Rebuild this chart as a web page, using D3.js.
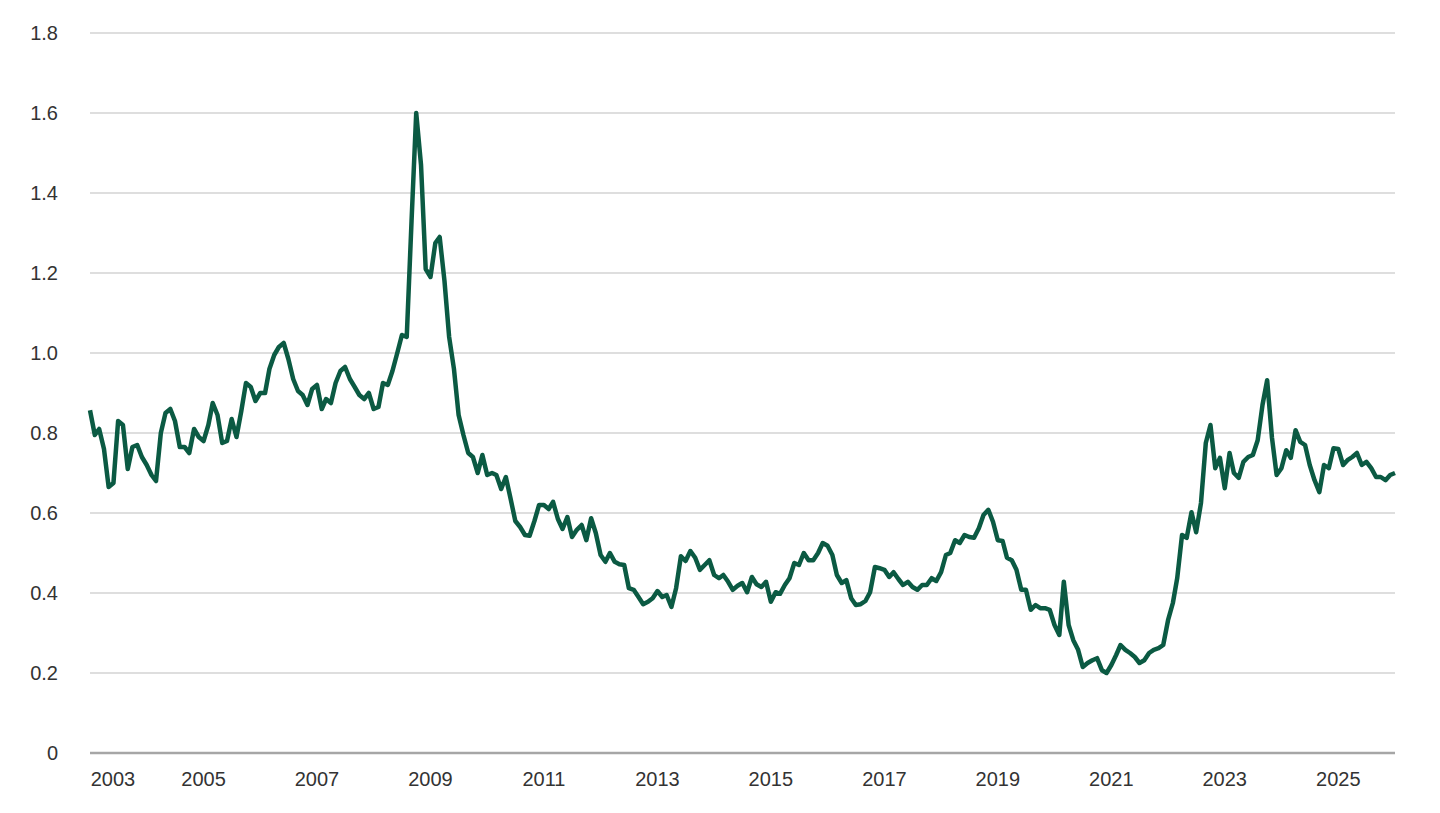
<!DOCTYPE html>
<html>
<head>
<meta charset="utf-8">
<script src="https://cdn.jsdelivr.net/npm/d3@7"></script>
<style>
  body { margin: 0; background: #fff; }
  text { font-family: "Liberation Sans", Arial, sans-serif; }
</style>
</head>
<body>
<svg id="chart" width="1440" height="813"></svg>
<script>
// monthly values starting Jan 2003
const startYear = 2003;
const values = [
  0.857,0.795,0.81,0.76,0.665,0.675,0.83,0.82,0.71,0.765,0.77,0.74,
  0.72,0.695,0.68,0.80,0.85,0.86,0.83,0.765,0.765,0.75,0.81,0.79,
  0.78,0.82,0.875,0.845,0.775,0.78,0.835,0.79,0.855,0.925,0.915,0.88,
  0.90,0.90,0.96,0.995,1.015,1.025,0.985,0.935,0.905,0.895,0.87,0.91,
  0.92,0.86,0.885,0.875,0.925,0.955,0.965,0.935,0.915,0.895,0.885,0.90,
  0.86,0.865,0.925,0.92,0.955,1.0,1.045,1.04,1.33,1.6,1.47,1.21,
  1.19,1.275,1.29,1.18,1.04,0.96,0.845,0.795,0.75,0.74,0.70,0.745,
  0.695,0.70,0.695,0.66,0.69,0.635,0.58,0.565,0.545,0.543,0.58,0.62,
  0.62,0.61,0.628,0.585,0.56,0.59,0.54,0.558,0.57,0.532,0.587,0.55,
  0.495,0.478,0.5,0.478,0.472,0.47,0.412,0.408,0.39,0.372,0.378,0.387,
  0.405,0.39,0.395,0.365,0.412,0.492,0.48,0.505,0.488,0.458,0.47,0.482,
  0.445,0.437,0.445,0.428,0.408,0.418,0.425,0.402,0.44,0.422,0.415,0.428,
  0.378,0.402,0.398,0.42,0.437,0.475,0.47,0.5,0.482,0.482,0.5,0.525,
  0.518,0.495,0.445,0.425,0.432,0.387,0.37,0.372,0.38,0.402,0.465,0.462,
  0.458,0.44,0.452,0.435,0.42,0.428,0.415,0.408,0.42,0.42,0.437,0.43,
  0.452,0.495,0.5,0.532,0.525,0.545,0.54,0.538,0.562,0.595,0.608,0.578,
  0.532,0.53,0.488,0.482,0.458,0.408,0.408,0.358,0.37,0.362,0.362,0.358,
  0.32,0.295,0.428,0.32,0.282,0.258,0.215,0.225,0.232,0.237,0.207,0.2,
  0.22,0.245,0.27,0.258,0.25,0.24,0.225,0.232,0.25,0.258,0.262,0.27,
  0.332,0.375,0.437,0.545,0.538,0.602,0.552,0.625,0.775,0.82,0.712,0.738,
  0.662,0.75,0.70,0.688,0.728,0.74,0.745,0.782,0.87,0.932,0.788,0.695,
  0.712,0.757,0.738,0.807,0.778,0.77,0.72,0.682,0.652,0.72,0.712,0.762,
  0.76,0.72,0.732,0.74,0.75,0.72,0.728,0.712,0.69,0.69,0.682,0.695,0.70
];
const yTicks = [0, 0.2, 0.4, 0.6, 0.8, 1.0, 1.2, 1.4, 1.6, 1.8];
const yTickLabels = ["0", "0.2", "0.4", "0.6", "0.8", "1.0", "1.2", "1.4", "1.6", "1.8"];
const xTickYears = [2003, 2005, 2007, 2009, 2011, 2013, 2015, 2017, 2019, 2021, 2023, 2025];

const data = values.map((v, i) => ({ date: new Date(startYear, i, 1), value: v }));

const svg = d3.select("#chart");
const plotLeft = 90, plotRight = 1395, plotTop = 33, plotBottom = 753;

const x = d3.scaleTime()
  .domain([new Date(startYear, 0, 1), data[data.length - 1].date])
  .range([plotLeft, plotRight]);
const y = d3.scaleLinear().domain([0, 1.8]).range([plotBottom, plotTop]);

// grid lines
svg.append("g")
  .selectAll("line")
  .data(yTicks.filter(d => d > 0))
  .enter()
  .append("line")
  .attr("x1", plotLeft)
  .attr("x2", plotRight)
  .attr("y1", d => y(d))
  .attr("y2", d => y(d))
  .attr("stroke", "#bdbdbd")
  .attr("stroke-width", 1);

// y labels
svg.append("g")
  .selectAll("text")
  .data(yTicks)
  .enter()
  .append("text")
  .attr("x", 58)
  .attr("y", d => y(d))
  .attr("dy", "0.35em")
  .attr("text-anchor", "end")
  .attr("font-size", 20)
  .attr("fill", "#333")
  .text((d, i) => yTickLabels[i]);

// x axis baseline
svg.append("line")
  .attr("x1", plotLeft)
  .attr("x2", plotRight)
  .attr("y1", plotBottom)
  .attr("y2", plotBottom)
  .attr("stroke", "#a6a6a6")
  .attr("stroke-width", 2.5);

// x labels
svg.append("g")
  .selectAll("text")
  .data(xTickYears)
  .enter()
  .append("text")
  .attr("x", d => Math.max(x(new Date(d, 0, 1)), 113))
  .attr("y", 786)
  .attr("text-anchor", "middle")
  .attr("font-size", 20)
  .attr("fill", "#333")
  .text(d => d);

// series line
const line = d3.line()
  .x(d => x(d.date))
  .y(d => y(d.value));

svg.append("path")
  .datum(data)
  .attr("d", line)
  .attr("fill", "none")
  .attr("stroke", "#0b5a43")
  .attr("stroke-width", 4.5)
  .attr("stroke-linejoin", "round");
</script>
</body>
</html>
